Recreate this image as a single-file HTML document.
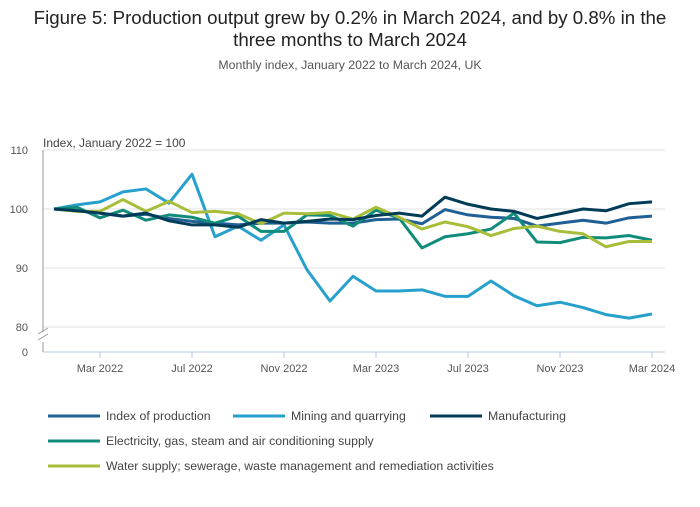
<!DOCTYPE html>
<html><head><meta charset="utf-8"><style>
body{margin:0;background:#fff;font-family:"Liberation Sans",sans-serif;}
svg text{font-family:"Liberation Sans",sans-serif;}
</style></head><body>
<svg width="700" height="502" xmlns="http://www.w3.org/2000/svg">
<text x="350" y="24" text-anchor="middle" font-size="18.7" fill="#222">Figure 5: Production output grew by 0.2% in March 2024, and by 0.8% in the</text>
<text x="350" y="46" text-anchor="middle" font-size="18.7" fill="#222">three months to March 2024</text>
<text x="350" y="69" text-anchor="middle" font-size="12.3" fill="#555">Monthly index, January 2022 to March 2024, UK</text>
<text x="43" y="147" font-size="12" fill="#444">Index, January 2022 = 100</text>
<g id="grid"></g><g id="series"></g><g id="legend"></g>
</svg>
<script>
const months=["Mar 2022","Jul 2022","Nov 2022","Mar 2023","Jul 2023","Nov 2023","Mar 2024"];
const tickIdx=[2,6,10,14,18,22,26];
const yTicks=[80,90,100,110];
const names=["Index of production","Mining and quarrying","Manufacturing","Electricity, gas, steam and air conditioning supply","Water supply; sewerage, waste management and remediation activities"];
const colors=["#206095","#27a0cc","#003c57","#118c7b","#a8bd3a"];
const iop=[100,99.7,99.3,98.8,99.1,98.4,97.9,97.6,97.3,97.6,97.6,97.8,97.6,97.6,98.2,98.3,97.5,99.9,99.0,98.6,98.4,97.1,97.6,98.1,97.6,98.5,98.8];
const mining=[100,100.7,101.2,102.9,103.4,101,105.9,95.3,97.1,94.7,97.3,89.7,84.4,88.6,86.1,86.1,86.3,85.2,85.2,87.8,85.3,83.6,84.2,83.3,82.1,81.5,82.2];
const manuf=[100,99.7,99.3,98.8,99.3,98,97.3,97.3,96.9,98.2,97.6,97.9,98.3,98.2,98.9,99.3,98.8,102,100.8,100,99.6,98.4,99.2,100,99.7,100.9,101.2];
const elec=[100,100.3,98.5,99.8,98.1,99,98.6,97.6,98.8,96.2,96.2,99,98.9,97.1,99.8,98.5,93.4,95.3,95.8,96.6,99.3,94.4,94.3,95.2,95.1,95.5,94.7];
const water=[100,99.6,99.6,101.6,99.6,101.3,99.4,99.6,99.2,97.5,99.3,99.2,99.4,98.3,100.3,98.6,96.6,97.8,97,95.5,96.7,97.1,96.2,95.8,93.6,94.5,94.5];
const allSeries=[iop,mining,manuf,elec,water];
const NS="http://www.w3.org/2000/svg";
const x=i=>54+i*23;
const y=v=>209-(v-100)*5.9;
function mk(t,a,p){const e=document.createElementNS(NS,t);for(const k in a)e.setAttribute(k,a[k]);p.appendChild(e);return e;}
const g=document.getElementById('grid');
yTicks.forEach(v=>{
 const l=mk('line',{x1:43,x2:665,y1:y(v),y2:y(v),stroke:'#e0e0e0'},g);
 
 
 const t=mk('text',{x:28,y:y(v)+4,'font-size':11,fill:'#555','text-anchor':'end'},g);t.textContent=v;
 
 
});
const z=mk('text',{x:28,y:356,'font-size':11,fill:'#555','text-anchor':'end'},g);z.textContent='0';


const ax=mk('line',{x1:43,x2:665,y1:352,y2:352,stroke:'#b8c8e0'},g);


const ya=mk('path',{d:'M43,150V332M43,342V352M38,334L48,328M38,340L48,334',stroke:'#999',fill:'none'},g);


tickIdx.forEach((ix,k)=>{
 const l=mk('line',{x1:x(ix),x2:x(ix),y1:352,y2:358,stroke:'#b8c8e0'},g);
 
 
 const t=mk('text',{x:x(ix),y:372,'font-size':11,fill:'#555','text-anchor':'middle'},g);t.textContent=months[k];
 
 
});
const s=document.getElementById('series');
const order=[1,0,3,4,2];
order.forEach(si=>{
 const d=allSeries[si].map((v,i)=>(i?'L':'M')+x(i)+','+y(v)).join('');
 const p=mk('path',{d:d,stroke:colors[si],'stroke-width':3,fill:'none','stroke-linejoin':'round'},s);
 
 
});
const lg=document.getElementById('legend');
const pos=[[48,416],[233,416],[430,416],[48,441],[48,466]];
names.forEach((n,i)=>{
 const l=mk('line',{x1:pos[i][0],x2:pos[i][0]+52,y1:pos[i][1],y2:pos[i][1],stroke:colors[i],'stroke-width':3},lg);
 
 
 const t=mk('text',{x:pos[i][0]+58,y:pos[i][1]+4,'font-size':12.3,fill:'#444'},lg);t.textContent=n;
 
 
});
</script>
</body></html>
